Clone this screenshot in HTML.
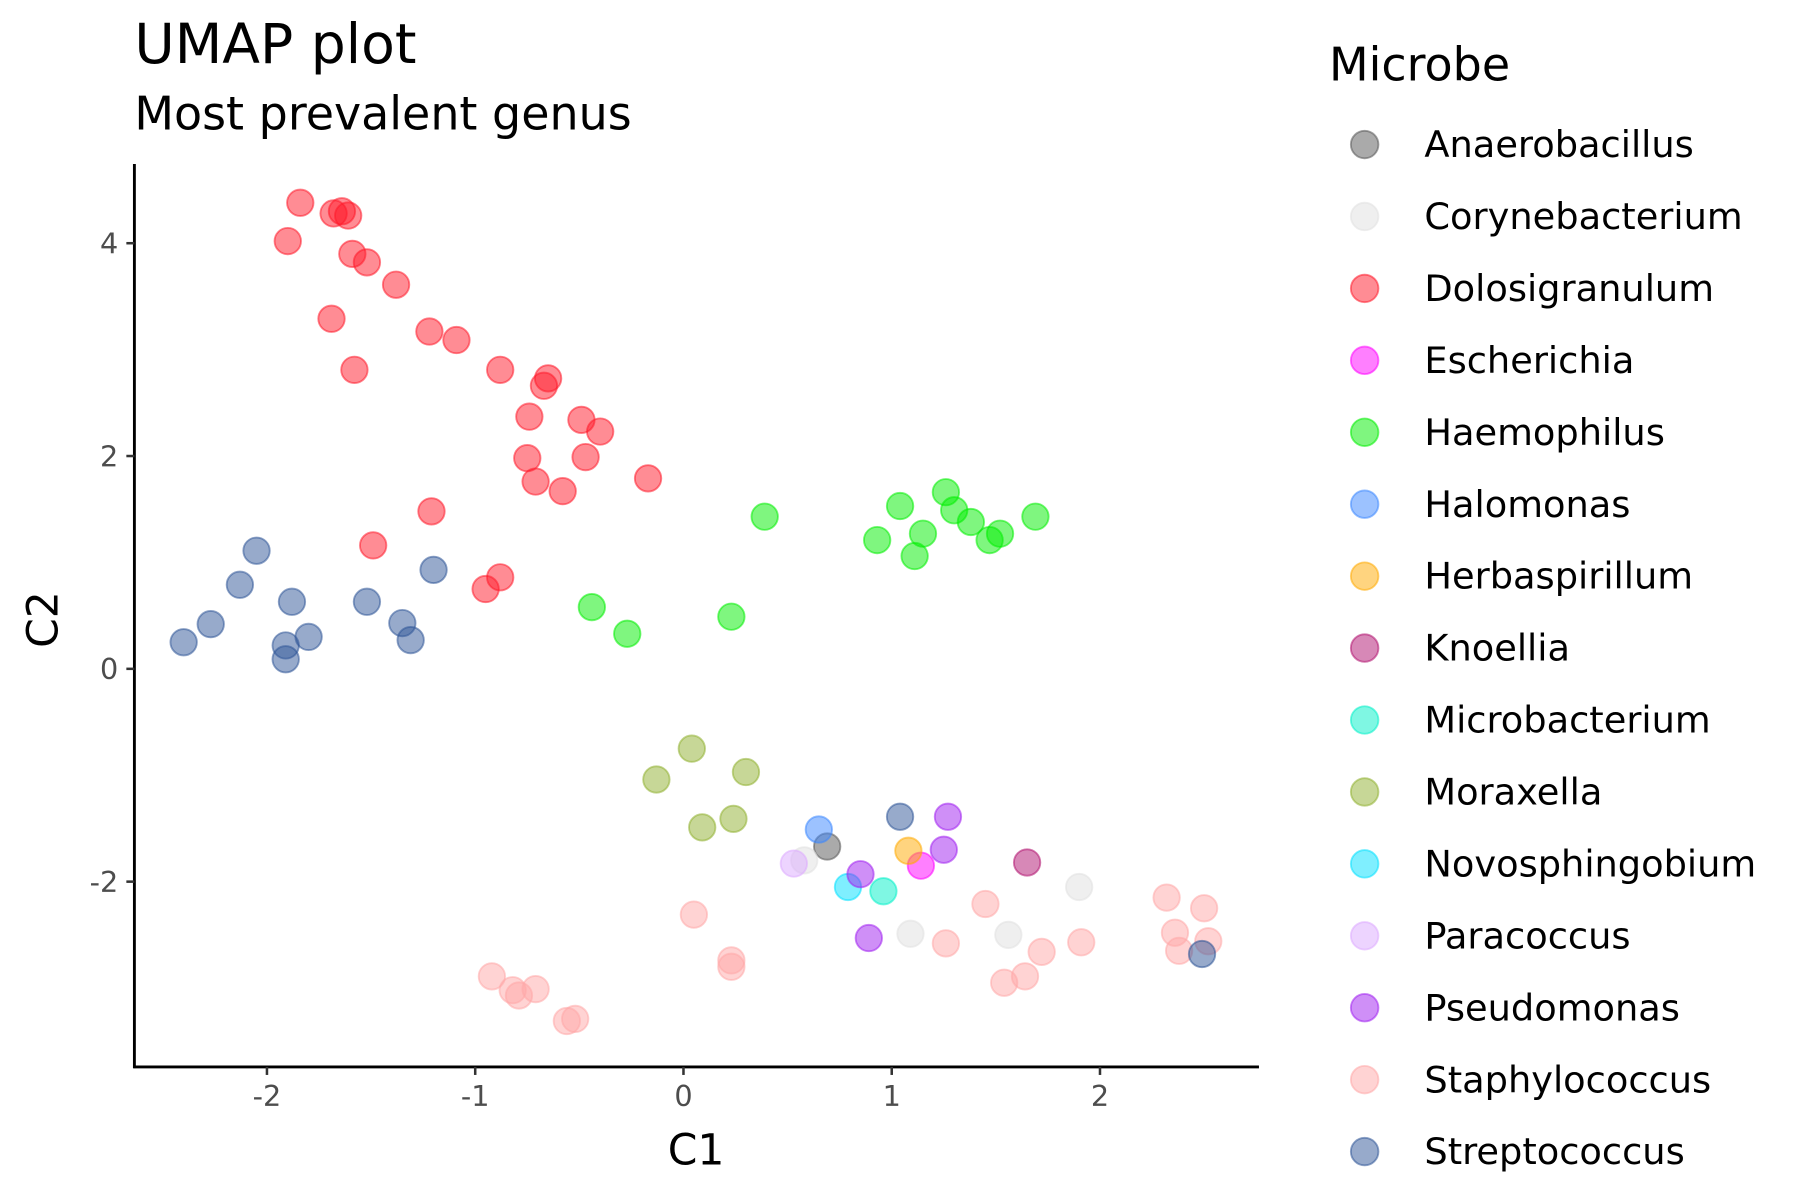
<!DOCTYPE html>
<html><head><meta charset="utf-8"><style>
html,body{margin:0;padding:0;background:#fff;}
svg{display:block;font-family:"DejaVu Sans","Liberation Sans",sans-serif;}
</style></head><body>
<svg id="chart" width="1800" height="1200" viewBox="0 0 1567 1046" preserveAspectRatio="none" xmlns="http://www.w3.org/2000/svg">
<text x="117" y="55" font-size="48" fill="#000">UMAP plot</text>
<text x="117" y="113" font-size="40" fill="#000">Most prevalent genus</text>
<g id="plot"></g>
<g id="axes"></g>
<g id="legend"></g>
</svg>
<script>
const genera = ["Anaerobacillus","Corynebacterium","Dolosigranulum","Escherichia","Haemophilus","Halomonas","Herbaspirillum","Knoellia","Microbacterium","Moraxella","Novosphingobium","Paracoccus","Pseudomonas","Staphylococcus","Streptococcus"];
const colors = ["#555555","#e0e0e0","#ff1a2a","#ff00ff","#00ee00","#3a86ff","#ffaa00","#b0126f","#00f0c8","#8fb02f","#00e0ff","#dcaaff","#a020f0","#ffa8a8","#2f5597"];
const xTicks = [-2,-1,0,1,2];
const yTicks = [-2,0,2,4];
const anaeroX=[0.69], anaeroY=[-1.67];
const coryX=[1.90,1.09,1.56,0.58], coryY=[-2.05,-2.49,-2.50,-1.80];
const doloX=[-1.84,-1.90,-1.68,-1.64,-1.61,-1.59,-1.52,-1.38,-1.69,-1.58,-1.22,-1.09,-0.88,-0.65,-0.67,-0.74,-0.49,-0.40,-0.75,-0.47,-0.71,-0.58,-0.17,-1.21,-1.49,-0.88,-0.95];
const doloY=[4.38,4.02,4.28,4.30,4.26,3.90,3.82,3.61,3.29,2.81,3.17,3.09,2.81,2.73,2.66,2.37,2.34,2.23,1.98,1.99,1.76,1.67,1.79,1.48,1.16,0.86,0.75];
const escX=[1.14], escY=[-1.85];
const haemX=[0.39,-0.44,-0.27,0.23,1.04,1.26,1.30,1.38,1.52,1.69,0.93,1.15,1.11,1.47];
const haemY=[1.43,0.58,0.33,0.49,1.53,1.66,1.49,1.38,1.27,1.43,1.21,1.27,1.06,1.21];
const haloX=[0.65], haloY=[-1.51];
const herbX=[1.08], herbY=[-1.71];
const knoX=[1.65], knoY=[-1.82];
const microX=[0.96], microY=[-2.09];
const moraX=[0.04,-0.13,0.30,0.09,0.24], moraY=[-0.75,-1.04,-0.97,-1.49,-1.41];
const novoX=[0.79], novoY=[-2.05];
const paraX=[0.53], paraY=[-1.83];
const pseuX=[1.27,1.25,0.85,0.89], pseuY=[-1.39,-1.70,-1.93,-2.53];
const staphX=[0.05,0.23,0.23,-0.92,-0.82,-0.79,-0.71,-0.56,-0.52,1.45,1.26,1.72,1.54,1.64,1.91,2.32,2.36,2.38,2.50,2.52];
const staphY=[-2.31,-2.74,-2.80,-2.89,-3.02,-3.07,-3.01,-3.31,-3.29,-2.21,-2.58,-2.66,-2.95,-2.89,-2.57,-2.15,-2.48,-2.65,-2.25,-2.56];
const strepX=[-2.05,-2.13,-1.88,-2.40,-2.27,-1.91,-1.91,-1.80,-1.52,-1.35,-1.31,-1.20,1.04,2.49];
const strepY=[1.11,0.79,0.63,0.25,0.42,0.22,0.09,0.30,0.63,0.43,0.27,0.93,-1.39,-2.68];
const seriesX=[anaeroX,coryX,doloX,escX,haemX,haloX,herbX,knoX,microX,moraX,novoX,paraX,pseuX,staphX,strepX];
const seriesY=[anaeroY,coryY,doloY,escY,haemY,haloY,herbY,knoY,microY,moraY,novoY,paraY,pseuY,staphY,strepY];

const NS="http://www.w3.org/2000/svg";
const L=117,R=1096,T=143,B=930;
const sx=v=>595+v*181.3;
const sy=v=>583-v*92.75;
function mk(tag,attrs,parent){const e=document.createElementNS(NS,tag);for(const k in attrs)e.setAttribute(k,attrs[k]);parent.appendChild(e);return e;}
const plot=document.getElementById('plot'),axes=document.getElementById('axes'),legend=document.getElementById('legend');
seriesX.forEach((xs,s)=>{
  xs.forEach((xv,i)=>{
    const c=mk('circle',{cx:sx(xv),cy:sy(seriesY[s][i]),r:11.5,fill:colors[s],'fill-opacity':0.5,stroke:colors[s],'stroke-opacity':0.55,'stroke-width':1.6},plot);
    
    
  });
});
let a=mk('line',{x1:L,y1:T,x2:L,y2:B+1,stroke:'#000','stroke-width':2.5},axes);

a=mk('line',{x1:L-1,y1:B,x2:R,y2:B,stroke:'#000','stroke-width':2.5},axes);

xTicks.forEach(t=>{
  const tk=mk('line',{x1:sx(t),y1:B,x2:sx(t),y2:B+7,stroke:'#333','stroke-width':2.2},axes);
  
  const lb=mk('text',{x:sx(t),y:B+34,'font-size':25,fill:'#4d4d4d','text-anchor':'middle'},axes);
  lb.textContent=t;
  
});
yTicks.forEach(t=>{
  const tk=mk('line',{x1:L-7,y1:sy(t),x2:L,y2:sy(t),stroke:'#333','stroke-width':2.2},axes);
  
  const lb=mk('text',{x:L-14,y:sy(t)+9,'font-size':25,fill:'#4d4d4d','text-anchor':'end'},axes);
  lb.textContent=t;
  
});
let xt=mk('text',{x:606,y:1015,'font-size':37,fill:'#000','text-anchor':'middle'},axes);
xt.textContent='C1';
let yt=mk('text',{x:0,y:0,'font-size':37,fill:'#000','text-anchor':'middle',transform:'translate(50,540) rotate(-90)'},axes);
yt.textContent='C2';
let lt=mk('text',{x:1157,y:70,'font-size':40,fill:'#000'},legend);
lt.textContent='Microbe';
genera.forEach((g,i)=>{
  const y=126+i*62.7;
  const grp=mk('g',{},legend);
  
  
  mk('circle',{cx:1188,cy:y,r:12,fill:colors[i],'fill-opacity':0.5,stroke:colors[i],'stroke-opacity':0.55,'stroke-width':1.6},grp);
  const tx=mk('text',{x:1240,y:y+11,'font-size':32,fill:'#000'},grp);
  tx.textContent=g;
});
</script>
</body></html>
